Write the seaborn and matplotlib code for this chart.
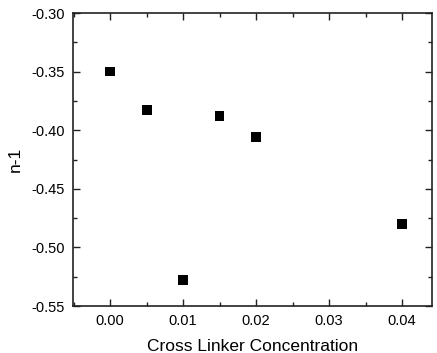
import matplotlib
matplotlib.use("Agg")
import matplotlib.pyplot as plt
import seaborn as sns
import pandas as pd
from matplotlib.ticker import MultipleLocator, FormatStrFormatter

# data
concentration = [0.0, 0.005, 0.01, 0.015, 0.02, 0.04]
n_minus_1 = [-0.350, -0.383, -0.528, -0.388, -0.406, -0.480]

df = pd.DataFrame({"Cross Linker Concentration": concentration, "n-1": n_minus_1})

sns.set_style("ticks")
plt.rcParams["font.family"] = ["Liberation Sans", "DejaVu Sans"]
plt.rcParams["text.color"] = "black"
plt.rcParams["axes.labelcolor"] = "black"
plt.rcParams["xtick.labelcolor"] = "black"
plt.rcParams["ytick.labelcolor"] = "black"

fig = plt.figure(figsize=(4.37, 3.53), dpi=100)
ax = fig.add_axes([73 / 437, 1 - 306 / 353, (432 - 73) / 437, (306 - 13) / 353])

sns.scatterplot(data=df, x="Cross Linker Concentration", y="n-1", marker="s",
                color="black", s=48, edgecolor="none", ax=ax)

ax.set_xlim(-0.0051, 0.0441)
ax.set_ylim(-0.55, -0.30)
ax.xaxis.set_major_locator(MultipleLocator(0.01))
ax.xaxis.set_minor_locator(MultipleLocator(0.005))
ax.yaxis.set_major_locator(MultipleLocator(0.05))
ax.yaxis.set_minor_locator(MultipleLocator(0.025))
ax.xaxis.set_major_formatter(FormatStrFormatter("%.2f"))
ax.yaxis.set_major_formatter(FormatStrFormatter("%.2f"))

ax.tick_params(which="both", direction="in", top=True, right=True, width=1, color="#222222",
               labelsize=10.5, labelcolor="black")
ax.tick_params(which="major", length=5, pad=6)
ax.tick_params(which="minor", length=3)
for sp in ax.spines.values():
    sp.set_linewidth(1.2)
    sp.set_color("#222222")

ax.set_xlabel("Cross Linker Concentration", fontsize=12.5, labelpad=8, color="black")
ax.set_ylabel("n-1", fontsize=12.5, labelpad=6, color="black")

fig.savefig("out.png", dpi=100)
